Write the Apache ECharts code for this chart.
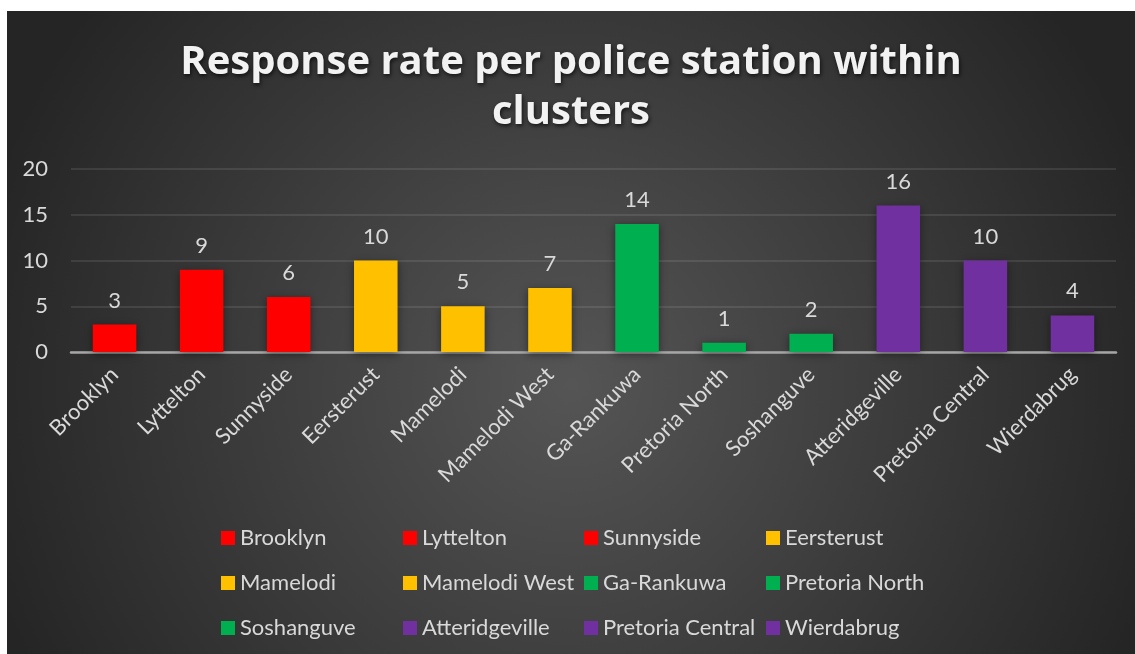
<!DOCTYPE html>
<html>
<head>
<meta charset="utf-8">
<script src="https://cdn.jsdelivr.net/npm/echarts@6/dist/echarts.min.js"></script>
<style>
  html, body { margin: 0; padding: 0; background: #ffffff; }
  #chart { position: absolute; left: 7px; top: 11px; width: 1128px; height: 643px; }
</style>
</head>
<body>
<div id="chart"></div>
<script>
// Stations, in display order
const stations = ['Brooklyn', 'Lyttelton', 'Sunnyside', 'Eersterust', 'Mamelodi', 'Mamelodi West',
                  'Ga-Rankuwa', 'Pretoria North', 'Soshanguve', 'Atteridgeville', 'Pretoria Central', 'Wierdabrug'];
// Responses per station
const responses = [3, 9, 6, 10, 5, 7, 14, 1, 2, 16, 10, 4];
// Cluster colour per station
const stationColors = ['#FF0000', '#FF0000', '#FF0000', '#FFC000', '#FFC000', '#FFC000',
                       '#00B050', '#00B050', '#00B050', '#7030A0', '#7030A0', '#7030A0'];
// Y axis ticks
const yTicks = [0, 5, 10, 15, 20];

const labelColor = '#d9d9d9';
const font = 'Lato, "Open Sans", sans-serif';
const titleFont = '"Open Sans", Lato, sans-serif';

// one series per station so each gets its own legend entry
const series = stations.map((name, i) => ({
  name: name,
  type: 'bar',
  stack: 'all',
  barWidth: '50%',
  data: stations.map((_, j) => (j === i ? responses[i] : null)),
  itemStyle: {
    color: stationColors[i],
    shadowBlur: 8,
    shadowColor: 'rgba(0,0,0,0.45)',
    shadowOffsetY: 2
  },
  label: {
    show: true,
    position: 'top',
    distance: 13,
    color: labelColor,
    fontSize: 22,
    fontFamily: font
  }
}));

// legend laid out as four columns of three entries
const colLeft = [214, 396, 577, 759];
const legends = colLeft.map((left, c) => ({
  orient: 'vertical',
  left: left,
  top: 515,
  padding: 0,
  itemWidth: 14,
  itemHeight: 14,
  itemGap: 21,
  icon: 'rect',
  data: [stations[c], stations[c + 4], stations[c + 8]],
  textStyle: { color: labelColor, fontSize: 22, fontFamily: font, lineHeight: 24 }
}));

const chart = echarts.init(document.getElementById('chart'));
chart.setOption({
  backgroundColor: {
    type: 'radial', x: 0.5, y: 0.58, r: 0.95,
    colorStops: [
      { offset: 0, color: '#555555' },
      { offset: 1, color: '#252525' }
    ]
  },
  title: {
    text: 'Response rate per police station within\nclusters',
    left: 'center',
    top: 22,
    textStyle: {
      color: '#f2f2f2',
      fontSize: 40,
      fontWeight: 'bold',
      fontFamily: titleFont,
      lineHeight: 50,
      align: 'center',
      textShadowColor: 'rgba(0,0,0,0.7)',
      textShadowBlur: 4,
      textShadowOffsetX: 1,
      textShadowOffsetY: 2
    }
  },
  legend: legends,
  grid: { left: 64, right: 19, top: 158, bottom: 302 },
  xAxis: {
    type: 'category',
    data: stations,
    axisTick: { show: false },
    axisLine: { lineStyle: { color: '#a6a6a6', width: 2.5 } },
    axisLabel: {
      rotate: 45,
      interval: 0,
      margin: 19,
      color: labelColor,
      fontSize: 22,
      fontFamily: font
    }
  },
  yAxis: {
    type: 'value',
    min: yTicks[0],
    max: yTicks[yTicks.length - 1],
    interval: yTicks[1] - yTicks[0],
    axisLine: { show: false },
    axisTick: { show: false },
    splitLine: { lineStyle: { color: 'rgba(255,255,255,0.13)', width: 1.5 } },
    axisLabel: { margin: 23, color: labelColor, fontSize: 22, fontFamily: font }
  },
  series: series
});
</script>
</body>
</html>
